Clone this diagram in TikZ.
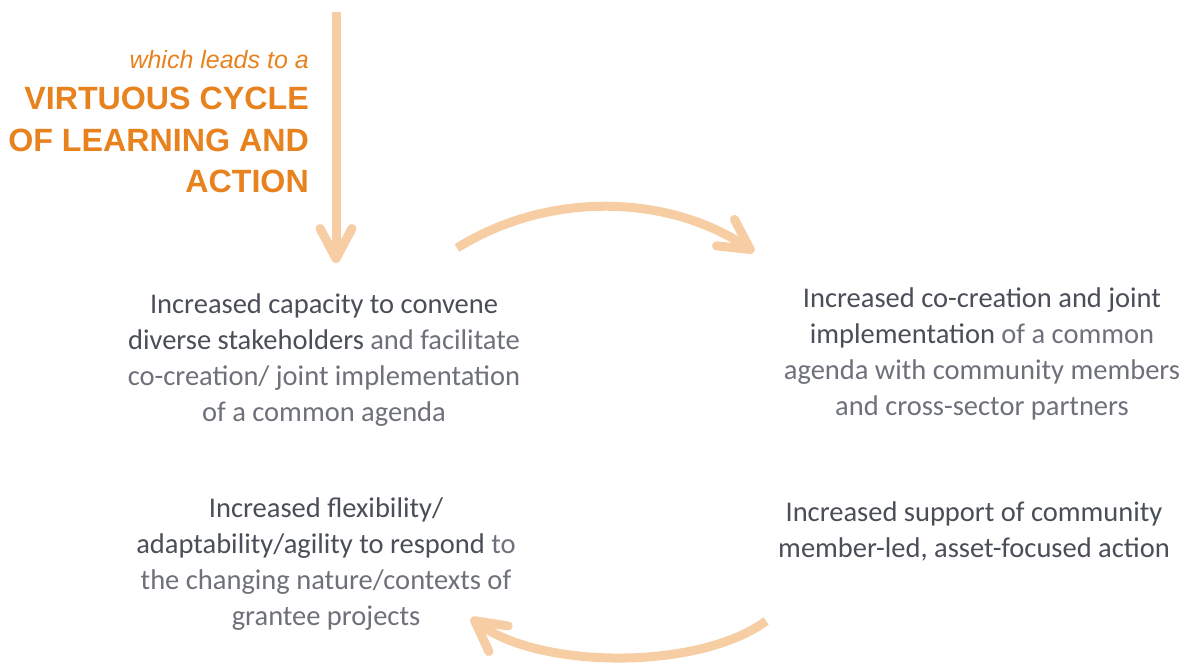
\documentclass[tikz,border=0pt]{standalone}
\usepackage{fontspec}
\usetikzlibrary{arrows.meta}
\newfontfamily\calfont{Carlito}
\newfontfamily\arifont{Liberation Sans}
\definecolor{arrowc}{HTML}{F7CDA4}
\definecolor{orangec}{HTML}{E8821E}
\definecolor{darkc}{HTML}{4A4E57}
\definecolor{lightc}{HTML}{6E7179}
\begin{document}
\begin{tikzpicture}[x=1pt,y=-1pt,
  arr/.style={draw=arrowc,line width=9pt,-{Straight Barb[round,length=30pt,width=32pt]}},
  blocktxt/.style={inner sep=0pt,anchor=north,align=center,text=lightc,
    font=\calfont\fontsize{28.5}{36}\selectfont},
  headtxt/.style={inner sep=0pt,anchor=north east,align=right,text=orangec}]
\useasboundingbox (0,0) rectangle (1189,664);
\fill[white] (0,0) rectangle (1189,664);

\node[headtxt,font=\arifont\itshape\fontsize{25}{30}\selectfont] (lead) at (309,50) {which leads to a};
\node[headtxt,font=\arifont\bfseries\fontsize{32.2}{41.5}\selectfont] (cycle) at (309,87)
  {VIRTUOUS CYCLE\\OF LEARNING AND\\ACTION};

\node[blocktxt] (b1) at (324,293.5)
  {\textcolor{darkc}{Increased capacity to convene}\\
   \textcolor{darkc}{diverse stakeholders} and facilitate\\
   co-creation/ joint implementation\\
   of a common agenda};
\node[blocktxt] (b2) at (982,288)
  {\textcolor{darkc}{Increased co-creation and joint}\\
   \textcolor{darkc}{implementation} of a common\\
   agenda with community members\\
   and cross-sector partners};
\node[blocktxt] (b3) at (326,497.5)
  {\textcolor{darkc}{Increased flexibility/}\\
   \textcolor{darkc}{adaptability/agility to respond} to\\
   the changing nature/contexts of\\
   grantee projects};
\node[blocktxt,text=darkc] (b4) at (974,501.5)
  {Increased support of community\\
   member-led, asset-focused action};

\coordinate (vtop) at (336,12);
\coordinate (vtip) at (336,263);
\draw[arr] (vtop) -- (vtip);

\coordinate (astart) at (457,248);
\coordinate (aend) at (754,252);
\draw[arr] (astart) .. controls (550,190) and (670,195) .. (aend);

\coordinate (bstart) at (766,621);
\coordinate (bend) at (471,618);
\draw[arr] (bstart) .. controls (700,670) and (540,670) .. (bend);
\end{tikzpicture}
\end{document}
